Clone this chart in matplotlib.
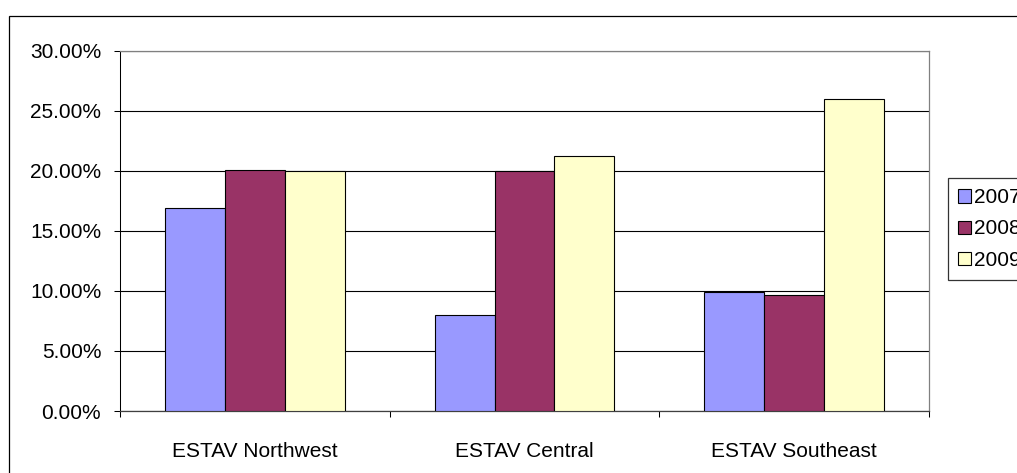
import matplotlib.pyplot as plt
from matplotlib.patches import Rectangle
from matplotlib.ticker import FuncFormatter
import numpy as np

plt.rcParams['font.family'] = ['Liberation Sans', 'DejaVu Sans']

regions = ["ESTAV Northwest", "ESTAV Central", "ESTAV Southeast"]
years = ["2007", "2008", "2009"]
rate_2007 = [16.9, 8.0, 9.9]
rate_2008 = [20.1, 20.0, 9.65]
rate_2009 = [20.0, 21.25, 26.0]
colors = ["#9999FF", "#993366", "#FFFFCC"]

W, H = 1017, 473
fig = plt.figure(figsize=(W / 100, H / 100), dpi=100)
ax = fig.add_axes([120 / W, (H - 411) / H, (929 - 120) / W, (411 - 51) / H])

# chart area border (runs off the right and bottom edges)
fig.patches.append(Rectangle((9 / W, -0.1), 1.2, 1 - 16 / H + 0.1,
                             transform=fig.transFigure, fill=False,
                             edgecolor="black", linewidth=0.9))

x = np.arange(len(regions))
bw = 0.2222
series = [rate_2007, rate_2008, rate_2009]
for i, (vals, c, lab) in enumerate(zip(series, colors, years)):
    ax.bar(x + (i - 1) * bw, vals, bw, color=c, edgecolor="black",
           linewidth=0.8, label=lab, zorder=3)

ax.set_xlim(-0.5, 2.5)
ax.set_ylim(0, 30)
ax.set_yticks(np.arange(0, 31, 5))
ax.yaxis.set_major_formatter(FuncFormatter(lambda v, p: f"{v:.2f}%"))
ax.yaxis.grid(True, color="black", linewidth=0.8, zorder=0)
ax.set_axisbelow(True)

ax.set_xticks(x)
ax.set_xticklabels(regions)
ax.set_xticks([-0.5, 0.5, 1.5, 2.5], minor=True)
ax.tick_params(axis="x", which="major", length=0, pad=22, labelsize=15)
ax.tick_params(axis="x", which="minor", length=4.5, width=0.75, direction="out")
ax.tick_params(axis="y", length=4.5, width=0.75, direction="out", pad=9, labelsize=15)

for side in ["top", "right"]:
    ax.spines[side].set_color("#808080")
    ax.spines[side].set_linewidth(0.9)
ax.spines["bottom"].set_color("#404040")
ax.spines["bottom"].set_linewidth(0.9)
ax.spines["left"].set_color("black")
ax.spines["left"].set_linewidth(0.75)

# legend sits partly past the right edge, as in the original layout
leg = fig.legend(loc="upper left", bbox_to_anchor=(948 / W, 1 - 178 / H),
                 fontsize=15, frameon=True, fancybox=False, edgecolor="black",
                 handlelength=0.6, handleheight=0.6, handletextpad=0.15,
                 labelspacing=0.58, borderpad=0.5, borderaxespad=0)
leg.get_frame().set_linewidth(0.9)

fig.savefig("out.png", dpi=100)
